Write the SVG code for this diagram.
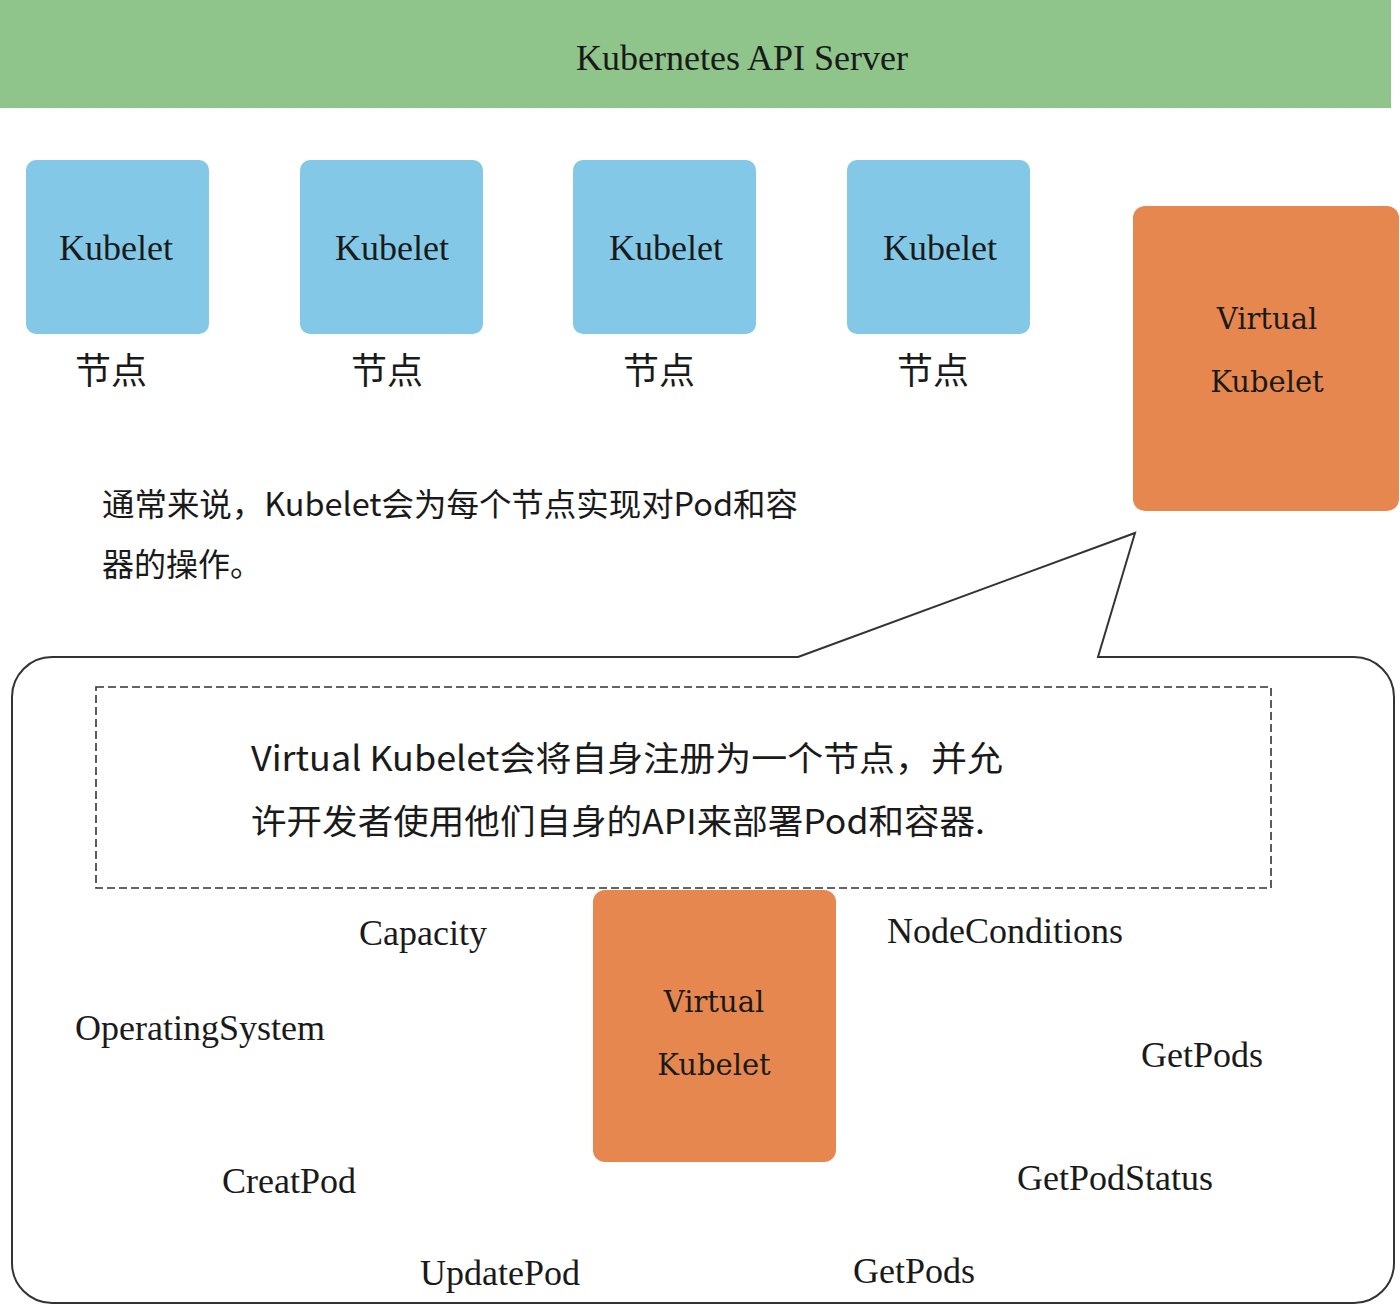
<svg xmlns="http://www.w3.org/2000/svg" width="1400" height="1306" viewBox="0 0 1400 1306">
<style>
.serif{font-family:"Liberation Serif","Times New Roman",serif;fill:#1a1a1a}
.vk{font-family:"DejaVu Serif","Liberation Serif",serif;fill:#1a1a1a;font-size:29px;text-anchor:middle}
.cjk{font-family:"Noto Sans CJK SC","Noto Sans",sans-serif;fill:#1a1a1a}
.blue{fill:#83c8e6}
.orange{fill:#e6874f}
.lbl{font-size:36px}
</style>
<rect width="1400" height="1306" fill="#ffffff"/>
<g id="api-server">
<rect x="0" y="0" width="1391" height="108" fill="#8fc48b"/>
<text class="serif" x="742" y="70" font-size="36" text-anchor="middle">Kubernetes API Server</text>
</g>
<g id="node1">
<rect class="blue" x="26" y="160" width="183" height="174" rx="10"/>
<text class="serif lbl" x="116" y="260" text-anchor="middle">Kubelet</text>
<text class="cjk" x="111" y="384" font-size="36" text-anchor="middle">节点</text>
</g>
<g id="node2">
<rect class="blue" x="300" y="160" width="183" height="174" rx="10"/>
<text class="serif lbl" x="392" y="260" text-anchor="middle">Kubelet</text>
<text class="cjk" x="387" y="384" font-size="36" text-anchor="middle">节点</text>
</g>
<g id="node3">
<rect class="blue" x="573" y="160" width="183" height="174" rx="10"/>
<text class="serif lbl" x="666" y="260" text-anchor="middle">Kubelet</text>
<text class="cjk" x="659" y="384" font-size="36" text-anchor="middle">节点</text>
</g>
<g id="node4">
<rect class="blue" x="847" y="160" width="183" height="174" rx="10"/>
<text class="serif lbl" x="940" y="260" text-anchor="middle">Kubelet</text>
<text class="cjk" x="933" y="384" font-size="36" text-anchor="middle">节点</text>
</g>
<g id="virtual-kubelet-top">
<rect class="orange" x="1133" y="206" width="266" height="305" rx="12"/>
<text class="vk" x="1267" y="329">Virtual</text>
<text class="vk" x="1267" y="392">Kubelet</text>
</g>
<g id="note-kubelet">
<text class="cjk" x="102" y="516" font-size="32" textLength="696" lengthAdjust="spacingAndGlyphs">通常来说，Kubelet会为每个节点实现对Pod和容</text>
<text class="cjk" x="102" y="576" font-size="32" textLength="160" lengthAdjust="spacingAndGlyphs">器的操作。</text>
</g>
<g id="connectors">
<path d="M 798 657 L 1135 533 L 1098 657 L 1354 657 A 40 40 0 0 1 1394 697 L 1394 1263 A 40 40 0 0 1 1354 1303 L 52 1303 A 40 40 0 0 1 12 1263 L 12 697 A 40 40 0 0 1 52 657 Z" fill="none" stroke="#333333" stroke-width="2"/>
</g>
<g id="dashed-note">
<rect x="96" y="687" width="1175" height="201" fill="none" stroke="#333333" stroke-width="1.6" stroke-dasharray="8 4"/>
<text class="cjk" x="251" y="771" font-size="34" textLength="752" lengthAdjust="spacingAndGlyphs">Virtual Kubelet会将自身注册为一个节点，并允</text>
<text class="cjk" x="251" y="834" font-size="34" textLength="734" lengthAdjust="spacingAndGlyphs">许开发者使用他们自身的API来部署Pod和容器.</text>
</g>
<g id="virtual-kubelet-bottom">
<rect class="orange" x="593" y="890" width="243" height="272" rx="12"/>
<text class="vk" x="714" y="1012">Virtual</text>
<text class="vk" x="714" y="1075">Kubelet</text>
</g>
<g id="labels">
<text class="serif lbl" x="359" y="945">Capacity</text>
<text class="serif lbl" x="887" y="943">NodeConditions</text>
<text class="serif lbl" x="75" y="1040">OperatingSystem</text>
<text class="serif lbl" x="1141" y="1067">GetPods</text>
<text class="serif lbl" x="222" y="1193">CreatPod</text>
<text class="serif lbl" x="1017" y="1190">GetPodStatus</text>
<text class="serif lbl" x="420" y="1285">UpdatePod</text>
<text class="serif lbl" x="853" y="1283">GetPods</text>
</g>
</svg>
